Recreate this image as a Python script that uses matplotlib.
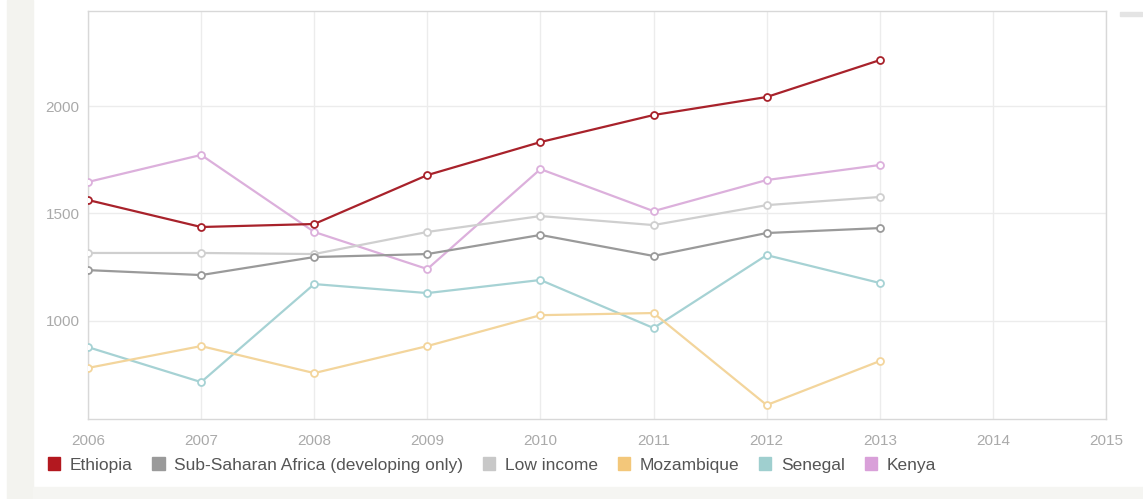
import numpy as np
import matplotlib.pyplot as plt
from matplotlib.patches import Patch, Rectangle

plt.rcParams['font.family'] = ['Liberation Sans', 'DejaVu Sans']

# Data
years = [2006, 2007, 2008, 2009, 2010, 2011, 2012, 2013]
ethiopia = [1562, 1436, 1450, 1678, 1832, 1958, 2042, 2214]
ssa = [1235, 1212, 1296, 1310, 1399, 1301, 1408, 1431]
low_income = [1315, 1315, 1310, 1413, 1487, 1445, 1538, 1576]
mozambique = [779, 881, 755, 881, 1025, 1035, 606, 811]
senegal = [876, 713, 1170, 1128, 1189, 965, 1305, 1175]
kenya = [1646, 1772, 1413, 1240, 1706, 1510, 1655, 1725]

x_ticks = [2006, 2007, 2008, 2009, 2010, 2011, 2012, 2013, 2014, 2015]
y_ticks = [1000, 1500, 2000]

series = [
    ('Ethiopia', ethiopia, '#a8222b', '#b3181f'),
    ('Sub-Saharan Africa (developing only)', ssa, '#9a9a9a', '#9a9a9a'),
    ('Low income', low_income, '#cfcfcf', '#c8c8c8'),
    ('Mozambique', mozambique, '#f3d59c', '#f3c77a'),
    ('Senegal', senegal, '#a6d2d4', '#9fcfcf'),
    ('Kenya', kenya, '#dcb0dc', '#d9a0d9'),
]

fig = plt.figure(figsize=(11.43, 4.99), dpi=100)

# page background strips
fig.patches.append(Rectangle((7 / 1143, 0), 26 / 1143, 1, transform=fig.transFigure,
                             color='#f3f3ef', zorder=0))
fig.patches.append(Rectangle((33 / 1143, 0), 1 - 33 / 1143, 12 / 499, transform=fig.transFigure,
                             color='#f5f5f2', zorder=0))
fig.patches.append(Rectangle((1120 / 1143, 1 - 16 / 499), 22 / 1143, 4 / 499,
                             transform=fig.transFigure, color='#e4e4e4', zorder=0))

ax = fig.add_axes([88 / 1143, 80 / 499, 1018 / 1143, 408 / 499])
ax.set_facecolor('white')

# draw later series first so Ethiopia sits on top
for name, vals, lc, _ in reversed(series):
    ax.plot(years, vals, color=lc, lw=1.6, marker='o', ms=5,
            mfc='white', mec=lc, mew=1.3, zorder=3)

ax.set_xlim(2006, 2015)
ax.set_ylim(541, 2443)
ax.set_xticks(x_ticks)
ax.set_yticks(y_ticks)
ax.set_xticklabels([str(t) for t in x_ticks], color='#aaaaaa', fontsize=11)
ax.set_yticklabels([str(t) for t in y_ticks], color='#aaaaaa', fontsize=11)
ax.tick_params(length=0)
ax.tick_params(axis='x', pad=11)
ax.tick_params(axis='y', pad=6)
ax.grid(True, color='#ececec', lw=1, zorder=0)
for s in ax.spines.values():
    s.set_color('#d8d8d8')
    s.set_linewidth(1)

handles = [Patch(facecolor=sc, edgecolor=sc, label=name) for name, _, _, sc in series]
leg = fig.legend(handles=handles, loc='center left', bbox_to_anchor=(41 / 1143, 1 - 465 / 499),
                 ncol=6, frameon=False, fontsize=12.5, handlelength=0.7, handleheight=0.8,
                 handletextpad=0.55, columnspacing=1.15, borderaxespad=0)
for t in leg.get_texts():
    t.set_color('#555555')

fig.savefig('out.png', dpi=100, facecolor='white')
